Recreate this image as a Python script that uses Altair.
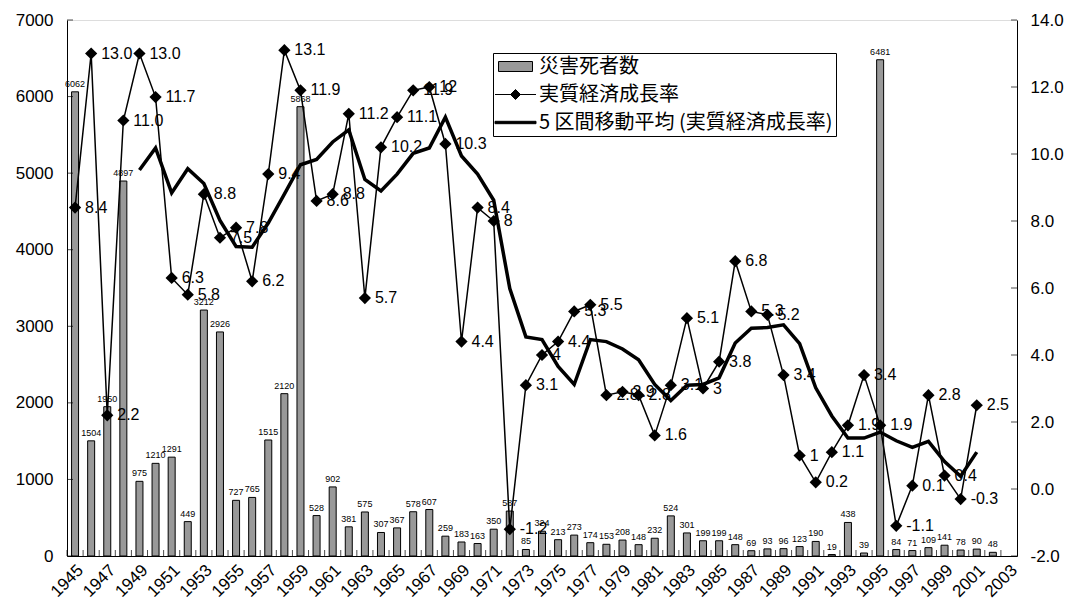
import altair as alt
import pandas as pd

# ---------------- data ----------------
years = list(range(1945, 2004))
deaths = [6062, 1504, 1950, 4897, 975, 1210, 1291, 449, 3212, 2926,
          727, 765, 1515, 2120, 5868, 528, 902, 381, 575, 307,
          367, 578, 607, 259, 183, 163, 350, 587, 85, 324,
          213, 273, 174, 153, 208, 148, 232, 524, 301, 199,
          199, 148, 69, 93, 96, 123, 190, 19, 438, 39,
          6481, 84, 71, 109, 141, 78, 90, 48]
gdp = ["8.4", "13.0", "2.2", "11.0", "13.0", "11.7", "6.3", "5.8", "8.8", "7.5",
       "7.8", "6.2", "9.4", "13.1", "11.9", "8.6", "8.8", "11.2", "5.7", "10.2",
       "11.1", "11.9", "12", "10.3", "4.4", "8.4", "8", "-1.2", "3.1", "4",
       "4.4", "5.3", "5.5", "2.8", "2.9", "2.8", "1.6", "3.1", "5.1", "3",
       "3.8", "6.8", "5.3", "5.2", "3.4", "1", "0.2", "1.1", "1.9", "3.4",
       "1.9", "-1.1", "0.1", "2.8", "0.4", "-0.3", "2.5"]
left_ticks = [0, 1000, 2000, 3000, 4000, 5000, 6000, 7000]
right_ticks = [-2, 0, 2, 4, 6, 8, 10, 12, 14]
xlabel_years = years[::2]
series = ["災害死者数", "実質経済成長率", "5 区間移動平均 (実質経済成長率)"]

W, H = 950, 536
FONT = "Liberation Sans"
JP = "Noto Sans CJK JP"

df_d = pd.DataFrame({"year": years[:len(deaths)], "deaths": deaths})
df_g = pd.DataFrame({"year": years[:len(gdp)], "gdp": [float(v) for v in gdp], "label": gdp})
df_years = pd.DataFrame({"year": years})
df_xl = pd.DataFrame({"year": xlabel_years})
df_lt = pd.DataFrame({"v": left_ticks})
df_rt = pd.DataFrame({"v": right_ticks})
df_leg = pd.DataFrame({"series": series})


def X(**kw):
    return alt.X("year:O",
                 scale=alt.Scale(domain=years, paddingInner=0, paddingOuter=0),
                 axis=alt.Axis(labels=False, ticks=False, title=None, domainColor="black",
                               grid=False),
                 **kw)


def YL(field):
    return alt.Y(field,
                 scale=alt.Scale(domain=[0, 7000], nice=False, zero=False),
                 axis=alt.Axis(values=left_ticks, format="d", ticks=False, labelFontSize=17,
                               labelPadding=14, title=None, grid=False, domainColor="black",
                               labelFont=FONT, labelColor="black"))


def YR(field):
    return alt.Y(field,
                 scale=alt.Scale(domain=[-2, 14], nice=False, zero=False),
                 axis=alt.Axis(orient="right", values=right_ticks, ticks=False, labelFontSize=17,
                               labelExpr="(datum.value < 0 ? '-' : '') + format(abs(datum.value), '.1f')",
                               labelPadding=13, title=None, grid=False, domainColor="black",
                               labelFont=FONT, labelColor="black"))


# ---------------- left (deaths) ----------------
bars = alt.Chart(df_d).mark_bar(size=7, fill="#999999", stroke="black", strokeWidth=1).encode(
    x=X(), y=YL("deaths:Q"))
bar_labels = alt.Chart(df_d).mark_text(fontSize=9, baseline="bottom", dy=-3, font=FONT,
                                       color="black").encode(
    x=X(), y=YL("deaths:Q"), text="deaths:Q")
xticks = alt.Chart(df_years).mark_tick(orient="vertical", size=6, thickness=1, color="black").encode(
    x=X(bandPosition=0), y=alt.value(H - 3))
xlabels = alt.Chart(df_xl).mark_text(angle=315, align="right", baseline="top", fontSize=17,
                                     font=FONT, color="black", dx=2, dy=-2).encode(
    x=X(), y=alt.value(H + 9), text="year:N")
lticks = alt.Chart(df_lt).mark_tick(orient="horizontal", size=6, thickness=1, color="black").encode(
    y=YL("v:Q"), x=alt.value(3))
left = alt.layer(bars, bar_labels, xticks, xlabels, lticks)

# ---------------- right (growth) ----------------
gline = alt.Chart(df_g).mark_line(color="black", strokeWidth=1.5).encode(
    x=X(), y=YR("gdp:Q"))
ma = alt.Chart(df_g).transform_window(
    ma="mean(gdp)", n="count()", frame=[-4, 0], sort=[alt.SortField("year")]
).transform_filter("datum.n == 5").mark_line(color="black", strokeWidth=3.5).encode(
    x=X(), y=YR("ma:Q"))
gpts = alt.Chart(df_g).mark_point(shape="diamond", filled=True, size=150, color="black",
                                  opacity=1).encode(x=X(), y=YR("gdp:Q"))
glabels = alt.Chart(df_g).mark_text(fontSize=16, align="left", baseline="middle", dx=10,
                                    font=FONT, color="black").encode(
    x=X(), y=YR("gdp:Q"), text="label:N")
rticks = alt.Chart(df_rt).mark_tick(orient="horizontal", size=6, thickness=1, color="black").encode(
    y=YR("v:Q"), x=alt.value(W - 3))
right = alt.layer(gline, ma, gpts, glabels, rticks)

# ---------------- legend ----------------
paths = ["M-1.7,-0.5H1.7V0.5H-1.7Z",
         "M-2.05,0H2.05M-0.5,0L0,-0.5L0.5,0L0,0.5Z",
         "M-2.05,-0.12H2.05V0.12H-2.05Z"]
leg = alt.Legend(title=None, orient="none", legendX=426, legendY=33,
                 labelFont=JP, labelFontSize=20, labelColor="black", labelLimit=500,
                 symbolSize=400, symbolStrokeWidth=1, symbolOpacity=1, symbolOffset=9,
                 strokeColor="black", fillColor="white", padding=3, rowPadding=7,
                 labelOffset=13)
legend_layer = alt.Chart(df_leg).mark_point(filled=True, opacity=0).encode(
    x=alt.value(0), y=alt.value(0),
    shape=alt.Shape("series:N", scale=alt.Scale(domain=series, range=paths), legend=leg),
    fill=alt.Fill("series:N", scale=alt.Scale(domain=series, range=["#999999", "black", "black"]),
                  legend=leg),
    stroke=alt.Stroke("series:N", scale=alt.Scale(domain=series, range=["black", "black", "black"]),
                      legend=leg),
)

chart = alt.layer(left, right, legend_layer).resolve_scale(
    y="independent"
).properties(
    width=W, height=H,
    padding={"left": 67, "top": 20, "right": 54, "bottom": 55},
    autosize=alt.AutoSizeParams(type="none"),
    background="white",
).configure_view(stroke="#666666").configure(font=FONT)

chart.save("out.html", embed_options={"renderer": "svg", "actions": False})
